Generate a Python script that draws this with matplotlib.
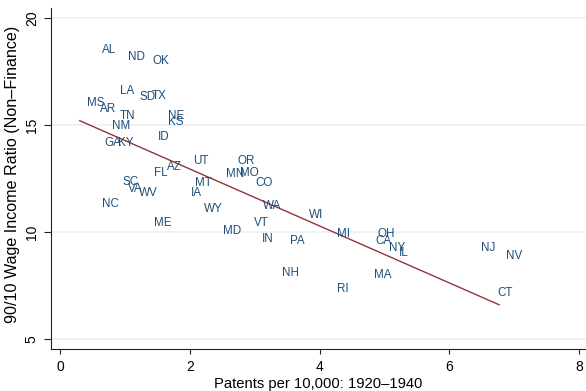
import numpy as np
import matplotlib
matplotlib.use("Agg")
import matplotlib.pyplot as plt

plt.rcParams['font.family'] = ['Liberation Sans', 'DejaVu Sans']

# states, patents per 10,000 (1920-1940), 90/10 wage income ratio
states = ["AL", "ND", "OK", "LA", "SD", "TX", "MS", "AR", "TN", "NE", "KS", "NM",
          "ID", "GA", "KY", "UT", "OR", "AZ", "FL", "MN", "MO", "SC", "VA", "WV",
          "CO", "MT", "IA", "NC", "WY", "WA", "ME", "VT", "MD", "IN", "PA", "WI",
          "MI", "OH", "CA", "NY", "IL", "NJ", "NV", "NH", "MA", "RI", "CT"]
patents = [0.54, 0.94, 1.31, 0.81, 1.11, 1.31, 0.30, 0.50, 0.81, 1.55, 1.55, 0.69,
           1.40, 0.58, 0.78, 1.94, 2.63, 1.54, 1.34, 2.45, 2.66, 0.86, 0.94, 1.11,
           2.90, 1.97, 1.91, 0.54, 2.11, 3.02, 1.34, 2.88, 2.40, 3.00, 3.44, 3.73,
           4.16, 4.78, 4.75, 4.96, 5.12, 6.38, 6.77, 3.31, 4.73, 4.16, 6.63]
ratio = [18.52, 18.19, 18.00, 16.60, 16.32, 16.36, 16.03, 15.75, 15.43, 15.43, 15.15, 14.96,
         14.44, 14.16, 14.16, 13.32, 13.32, 13.04, 12.76, 12.71, 12.76, 12.34, 12.01, 11.83,
         12.29, 12.29, 11.83, 11.31, 11.07, 11.21, 10.42, 10.42, 10.04, 9.67, 9.57, 10.79,
         9.90, 9.90, 9.57, 9.25, 9.01, 9.25, 8.88, 8.08, 7.98, 7.33, 7.14]

x = np.array(patents)
y = np.array(ratio)

fig = plt.figure(figsize=(5.86, 3.91), dpi=100)
ax = fig.add_axes([0.0865, 0.108, 0.9135, 0.8715])

ax.set_xlim(-0.148, 8.11)
ax.set_ylim(4.53, 20.48)

for v in [5, 10, 15, 20]:
    ax.axhline(v, color='#eaf0f2', lw=1.2, zorder=0)

# state labels sit to the right of the (invisible) points
for s, xi, yi in zip(states, x, y):
    ax.annotate(s, (xi, yi), xytext=(5, 0), textcoords='offset points',
                ha='left', va='center', fontsize=8.4, color='#1f4e79')

b, a = np.polyfit(x, y, 1)
xs = np.array([x.min(), x.max()])
ax.plot(xs, a + b * xs, color='#90353b', lw=1.0)

ax.spines['top'].set_visible(False)
ax.spines['right'].set_visible(False)
ax.spines['left'].set_color('#222222')
ax.spines['bottom'].set_color('#222222')
ax.spines['left'].set_linewidth(0.8)
ax.spines['bottom'].set_linewidth(0.8)

ax.set_xticks([0, 2, 4, 6, 8])
ax.set_yticks([5, 10, 15, 20])
ax.tick_params(axis='x', length=3.6, width=0.8, pad=4.5, labelsize=10, color='#222222')
ax.tick_params(axis='y', length=5, width=0.8, pad=3.5, labelsize=10, color='#222222')
for t in ax.get_yticklabels():
    t.set_rotation(90)
    t.set_va('center')

ax.set_xlabel("Patents per 10,000: 1920\u20131940", fontsize=10.6, labelpad=2)
ax.set_ylabel("90/10 Wage Income Ratio (Non\u2013Finance)", fontsize=11.6, labelpad=4)
ax.yaxis.set_label_coords(-0.0565, 0.513)

fig.savefig("out.png", dpi=100)
